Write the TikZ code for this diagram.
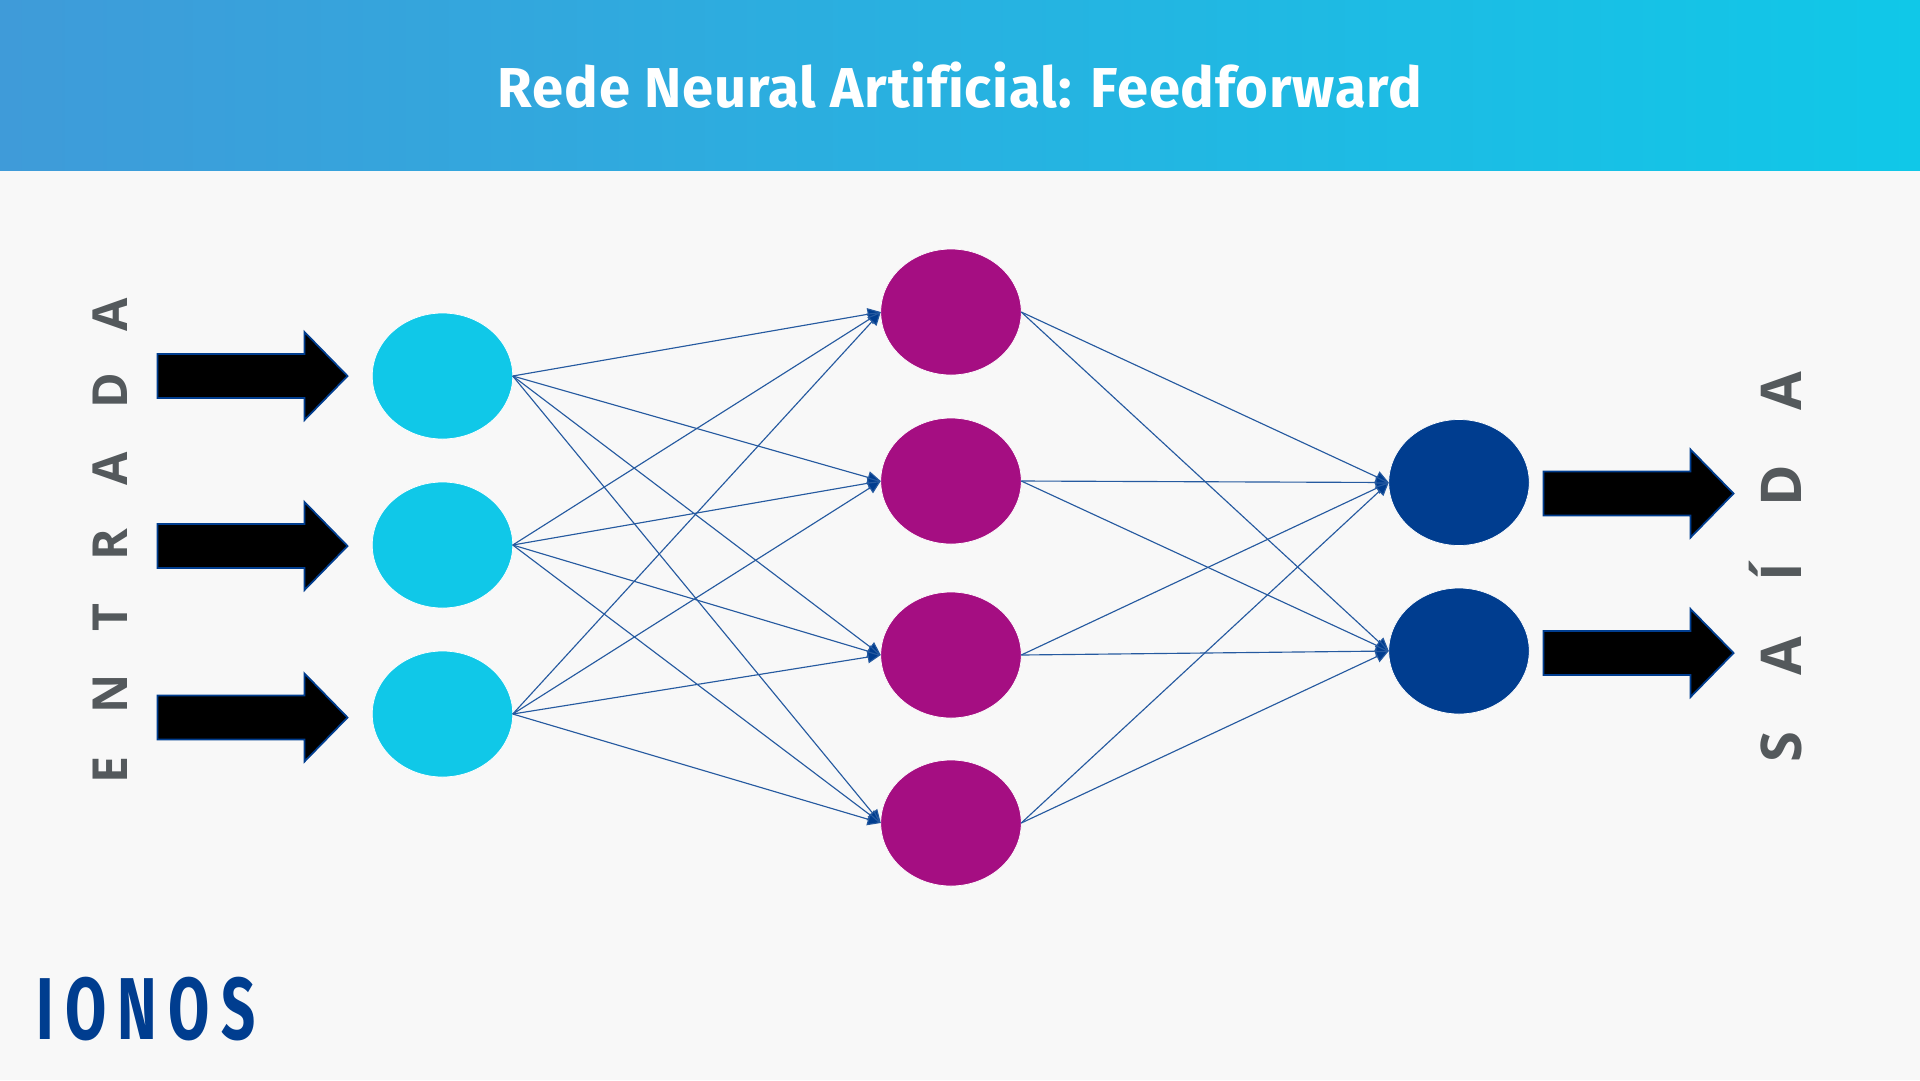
\documentclass[tikz,border=0pt]{standalone}
\usepackage{fontspec}
\setmainfont{Open Sans}
\newfontfamily\titlefont[LetterSpace=1.5,Ligatures=NoCommon]{Fira Sans}
\newfontfamily\logofont[LetterSpace=19]{Fira Sans}
\newfontfamily\sideA[LetterSpace=89]{Open Sans}
\newfontfamily\sideB[LetterSpace=99]{Open Sans}
\usetikzlibrary{shapes.geometric,arrows.meta}
\definecolor{bgc}{HTML}{F8F8F8}
\definecolor{cyanc}{HTML}{10C8E8}
\definecolor{purplec}{HTML}{A50E82}
\definecolor{bluec}{HTML}{003D8F}
\definecolor{grayc}{HTML}{54595C}
\definecolor{headl}{HTML}{3F9BD9}
\definecolor{headm}{HTML}{2FBDE5}
\tikzset{
 neuron/.style={ellipse,minimum width=140.5*0.02cm,minimum height=126*0.02cm,inner sep=0pt,outer sep=0pt,draw=white,line width=0.4pt},
 inn/.style={neuron,fill=cyanc},
 midn/.style={neuron,fill=purplec},
 outn/.style={neuron,fill=bluec},
 link/.style={draw=bluec!85!white,line width=0.65pt,-{Triangle[length=7.5pt,width=7pt,fill=bluec]}},
 bigarrow/.style={draw=bluec,fill=black,line width=1pt,line join=miter},
 sidetext/.style={text=grayc,font=\bfseries,rotate=90,anchor=base,inner sep=0pt}
}
\newcommand{\fatarrow}[2]{\path[bigarrow] (#1,#2-22) -- ++(147,0) -- ++(0,-22) -- ++(43,44) -- ++(-43,44) -- ++(0,-22) -- ++(-147,0) -- cycle;}
\begin{document}
\begin{tikzpicture}[x=0.02cm,y=-0.02cm]
\useasboundingbox (0,0) rectangle (1920,1080);
\fill[bgc] (0,0) rectangle (1920,1080);
\shade[left color=headl,middle color=headm,right color=cyanc] (0,0) rectangle (1920,170);
\node[text=white,font=\titlefont\bfseries\fontsize{32}{38}\selectfont,anchor=base,inner sep=0pt] (title) at (960,107) {Rede Neural Artificial: Feedforward};

\node[inn] (i1) at (442.5,376) {};
\node[inn] (i2) at (442.5,545) {};
\node[inn] (i3) at (442.5,714) {};
\node[midn] (m1) at (951,312) {};
\node[midn] (m2) at (951,481) {};
\node[midn] (m3) at (951,655) {};
\node[midn] (m4) at (951,823) {};
\node[outn] (o1) at (1459,482.5) {};
\node[outn] (o2) at (1459,651) {};

\foreach \a in {i1,i2,i3}{\foreach \b in {m1,m2,m3,m4}{\draw[link] (\a.east) -- (\b.west);}}
\foreach \a in {m1,m2,m3,m4}{\foreach \b in {o1,o2}{\draw[link] (\a.east) -- (\b.west);}}

\fatarrow{157.5}{376}
\fatarrow{157.5}{546}
\fatarrow{157.5}{717.5}
\fatarrow{1543.5}{493.5}
\fatarrow{1543.5}{653}

\node[sidetext,font=\sideA\bfseries\fontsize{27.5}{30}\selectfont] (entrada) at (127,540.5) {ENTRADA};
\node[sidetext,font=\sideB\bfseries\fontsize{32}{36}\selectfont] (saida) at (1801,567) {SAÍDA};
\node[text=bluec,font=\logofont\fontsize{50}{54}\selectfont\bfseries,anchor=base west,inner sep=0pt] (logo) at (36,1039) {\scalebox{0.68}[1]{IONOS}};
\end{tikzpicture}
\end{document}
